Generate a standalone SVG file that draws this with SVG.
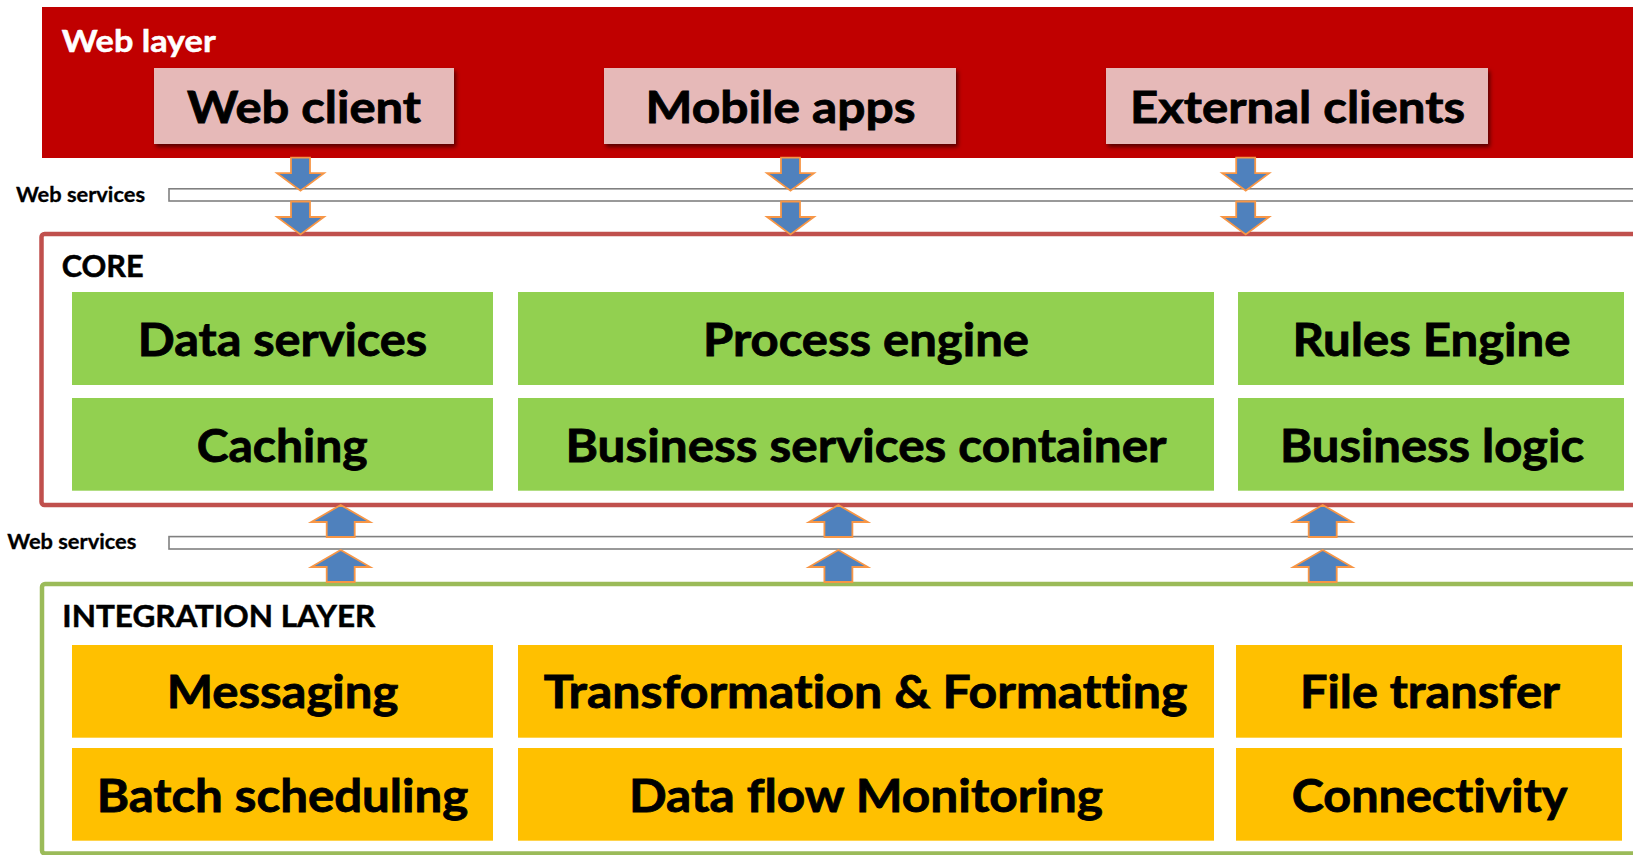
<svg xmlns="http://www.w3.org/2000/svg" xmlns:xlink="http://www.w3.org/1999/xlink" width="1633" height="855" viewBox="0 0 1633 855">
<style>
  text { font-family: Lato, "Open Sans", "Liberation Sans", sans-serif; font-weight: bold; font-variant-ligatures: none; font-feature-settings: "liga" 0, "dlig" 0; }
  .title { font-size: 31px; stroke-width: 0.5; }
  .ws { font-size: 20px; fill: #000; stroke: #000; stroke-width: 0.3; }
  .node { font-size: 45px; fill: #000; text-anchor: middle; stroke: #000; stroke-width: 0.8; }
  .client { font-size: 43px; fill: #000; text-anchor: middle; stroke: #000; stroke-width: 0.8; }
  .pink { fill: #E6B9B8; filter: url(#sh); }
  .green { fill: #92D050; }
  .orange { fill: #FFC000; }
  .bar { fill: #FFFFFF; stroke: #808080; stroke-width: 1.6; }
  .arrow { fill: #4F81BD; stroke: #F79646; stroke-width: 1.8; stroke-linejoin: miter; }
</style>
<defs>
  <filter id="sh" x="-10%" y="-20%" width="125%" height="150%">
    <feDropShadow dx="2" dy="3" stdDeviation="2" flood-color="#000" flood-opacity="0.55"/>
  </filter>
  <path id="down" class="arrow" d="M-9.5,0 H9.5 V15.5 H23.5 L0,33 L-23.5,15.5 H-9.5 Z"/>
  <path id="up" class="arrow" d="M0,0 L29.5,17 H14 V32 H-14 V17 H-29.5 Z"/>
</defs>
<rect width="1633" height="855" fill="#FFFFFF"/>

<g id="web-layer">
  <rect x="42" y="7" width="1620" height="151" fill="#C00000"/>
  <text class="title" x="61.7" y="51.7" fill="#FFFFFF" stroke="#FFFFFF" textLength="154" lengthAdjust="spacingAndGlyphs">Web layer</text>
</g>
<g id="web-client">
  <rect class="pink" x="154" y="68" width="300" height="76"/>
  <text class="client" x="304" y="123.3" textLength="234" lengthAdjust="spacingAndGlyphs">Web client</text>
</g>
<g id="mobile-apps">
  <rect class="pink" x="604" y="68" width="352" height="76"/>
  <text class="client" x="780.5" y="123.3" textLength="270" lengthAdjust="spacingAndGlyphs">Mobile apps</text>
</g>
<g id="external-clients">
  <rect class="pink" x="1106" y="68" width="382" height="76"/>
  <text class="client" x="1297.5" y="123.3" textLength="335" lengthAdjust="spacingAndGlyphs">External clients</text>
</g>

<g id="web-services-top">
  <rect class="bar" x="169" y="188.8" width="1500" height="12.2"/>
  <text class="ws" x="16" y="202" textLength="129" lengthAdjust="spacingAndGlyphs">Web services</text>
</g>

<g id="core">
  <rect x="41.5" y="234" width="1650" height="271" rx="3" fill="none" stroke="#C0504D" stroke-width="4.5"/>
  <text class="title" x="61.7" y="276.7" fill="#000" stroke="#000" textLength="82" lengthAdjust="spacingAndGlyphs">CORE</text>
</g>
<g id="data-services">
  <rect class="green" x="72" y="292" width="421" height="93"/>
  <text class="node" x="282.5" y="356" textLength="289.5" lengthAdjust="spacingAndGlyphs">Data services</text>
</g>
<g id="process-engine">
  <rect class="green" x="518" y="292" width="696" height="93"/>
  <text class="node" x="866" y="356" textLength="326" lengthAdjust="spacingAndGlyphs">Process engine</text>
</g>
<g id="rules-engine">
  <rect class="green" x="1238" y="292" width="386" height="93"/>
  <text class="node" x="1431.5" y="356" textLength="278" lengthAdjust="spacingAndGlyphs">Rules Engine</text>
</g>
<g id="caching">
  <rect class="green" x="72" y="398" width="421" height="92.7"/>
  <text class="node" x="282.2" y="461.7" textLength="171" lengthAdjust="spacingAndGlyphs">Caching</text>
</g>
<g id="business-services-container">
  <rect class="green" x="518" y="398" width="696" height="92.7"/>
  <text class="node" x="866" y="461.7" textLength="601" lengthAdjust="spacingAndGlyphs">Business services container</text>
</g>
<g id="business-logic">
  <rect class="green" x="1238" y="398" width="386" height="92.7"/>
  <text class="node" x="1432" y="461.7" textLength="304" lengthAdjust="spacingAndGlyphs">Business logic</text>
</g>

<g id="web-services-bottom">
  <rect class="bar" x="169" y="536.6" width="1500" height="12.4"/>
  <text class="ws" x="7.3" y="549.3" textLength="129" lengthAdjust="spacingAndGlyphs">Web services</text>
</g>

<g id="integration-layer">
  <rect x="42" y="584" width="1650" height="269.5" rx="3" fill="none" stroke="#9BBB59" stroke-width="4.5"/>
  <text class="title" x="62.3" y="626.7" fill="#000" stroke="#000" textLength="313" lengthAdjust="spacingAndGlyphs">INTEGRATION LAYER</text>
</g>
<g id="messaging">
  <rect class="orange" x="72" y="645" width="421" height="92.7"/>
  <text class="node" x="282.5" y="708.3" textLength="231.7" lengthAdjust="spacingAndGlyphs">Messaging</text>
</g>
<g id="transformation-formatting">
  <rect class="orange" x="518" y="645" width="696" height="92.7"/>
  <text class="node" x="865.5" y="708.3" textLength="643.7" lengthAdjust="spacingAndGlyphs">Transformation &amp; Formatting</text>
</g>
<g id="file-transfer">
  <rect class="orange" x="1236" y="645" width="386" height="92.7"/>
  <text class="node" x="1430" y="708.3" textLength="260" lengthAdjust="spacingAndGlyphs">File transfer</text>
</g>
<g id="batch-scheduling">
  <rect class="orange" x="72" y="748" width="421" height="92.7"/>
  <text class="node" x="282.5" y="811.5" textLength="371.7" lengthAdjust="spacingAndGlyphs">Batch scheduling</text>
</g>
<g id="data-flow-monitoring">
  <rect class="orange" x="518" y="748" width="696" height="92.7"/>
  <text class="node" x="866" y="811.5" textLength="474" lengthAdjust="spacingAndGlyphs">Data flow Monitoring</text>
</g>
<g id="connectivity">
  <rect class="orange" x="1236" y="748" width="386" height="92.7"/>
  <text class="node" x="1429.5" y="811.5" textLength="275.7" lengthAdjust="spacingAndGlyphs">Connectivity</text>
</g>

<g id="connectors">
  <use xlink:href="#down" href="#down" transform="translate(300.5,157.7)"/>
  <use xlink:href="#down" href="#down" transform="translate(300.5,201.5)"/>
  <use xlink:href="#down" href="#down" transform="translate(790.5,157.7)"/>
  <use xlink:href="#down" href="#down" transform="translate(790.5,201.5)"/>
  <use xlink:href="#down" href="#down" transform="translate(1245.7,157.7)"/>
  <use xlink:href="#down" href="#down" transform="translate(1245.7,201.5)"/>
  <use xlink:href="#up" href="#up" transform="translate(340.7,505)"/>
  <use xlink:href="#up" href="#up" transform="translate(340.7,550)"/>
  <use xlink:href="#up" href="#up" transform="translate(838.4,505)"/>
  <use xlink:href="#up" href="#up" transform="translate(838.4,550)"/>
  <use xlink:href="#up" href="#up" transform="translate(1322.7,505)"/>
  <use xlink:href="#up" href="#up" transform="translate(1322.7,550)"/>
</g>
</svg>
